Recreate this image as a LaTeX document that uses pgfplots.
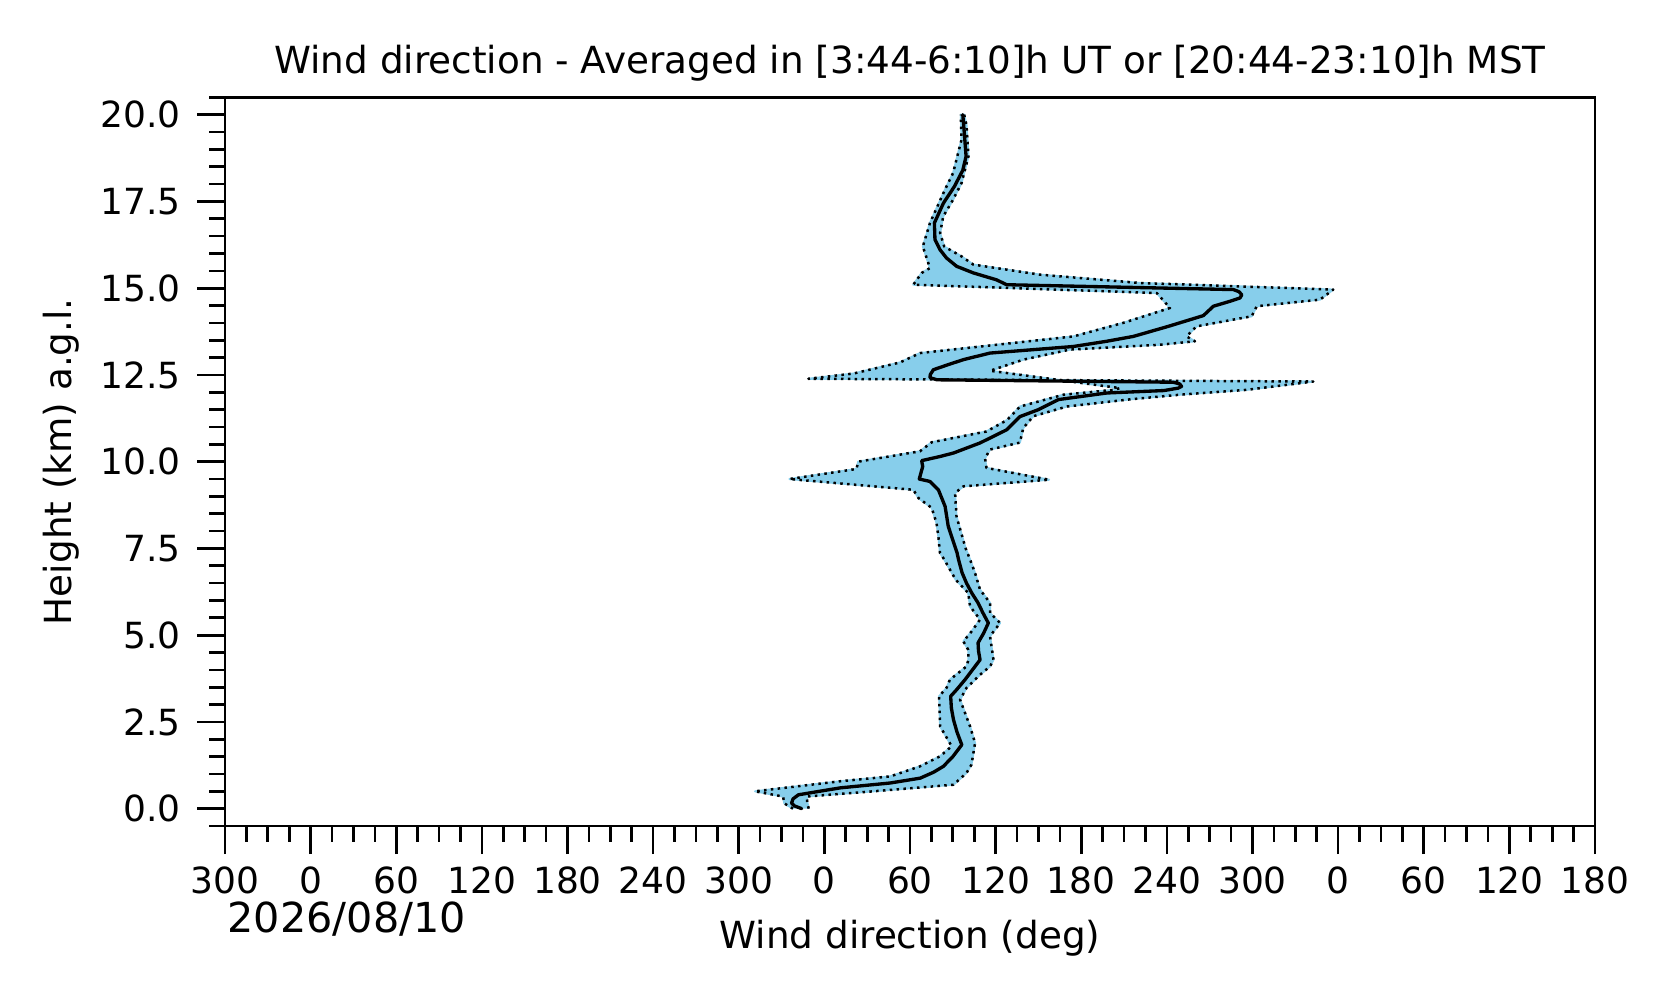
\documentclass[border=0pt]{standalone}
\usepackage{fontspec}
\setmainfont{DejaVu Sans}
\usepackage{pgfplots}
\usepackage{pgfplotstable}
\pgfplotsset{compat=1.18}
\definecolor{skyblue}{RGB}{135,206,235}

% first bound (x1)
\pgfplotstableread{
h u
0.00 -22
0.15 -28
0.35 -29
0.50 -48.6
0.79 11.2
0.93 46.2
1.22 67.0
1.51 81.1
1.80 89.2
2.37 81.1
3.24 80.4
3.48 85.6
3.72 88.0
4.10 99.6
4.30 101.0
4.58 100.8
4.82 97.4
5.10 103.0
5.45 109.1
5.83 102.1
6.22 100.8
6.60 92.0
7.18 84.0
7.37 81.0
7.80 80.0
8.23 78.6
8.67 75.2
8.95 66.0
9.19 62.3
9.50 -24.5
9.79 22.5
10.00 23.7
10.30 67.0
10.56 75.2
10.87 113.6
11.20 128.0
11.59 137.1
11.93 167.5
12.07 202.5
12.12 207.2
12.62 116.1
12.94 139.4
13.23 172.0
13.37 235.2
13.47 259.7
13.61 253.8
13.90 260.8
14.19 299.4
14.48 303.0
14.67 347.3
14.96 356.6
15.15 221.2
15.39 151.1
15.68 104.4
15.92 96.0
16.20 84.0
16.59 81.1
17.07 83.3
17.55 90.2
18.03 96.1
18.80 101.0
19.70 99.6
20.00 98.0
}\lodata

% second bound (x2)
\pgfplotstableread{
h u
0.00 -11
0.20 -12
0.35 -12.4
0.50 34.3
0.61 67.0
0.69 90.5
1.03 99.6
1.27 103.1
1.89 105.6
2.37 102.1
3.14 95.1
3.48 99.6
3.86 109.1
4.10 116.1
4.29 118.5
4.97 116.1
5.35 123.1
5.64 116.1
5.93 116.1
6.31 109.1
6.79 105.6
7.18 102.1
7.50 99.0
8.42 92.6
9.10 91.6
9.29 97.5
9.48 157.5
9.82 113.6
10.10 112.6
10.35 116.1
10.55 137.0
10.97 139.4
11.31 146.4
11.59 170.0
11.80 215.0
11.93 249.2
12.07 295.9
12.31 342.6
12.39 -11.2
12.54 20.4
12.86 53.0
13.13 67.0
13.61 174.5
14.00 209.4
14.43 242.2
14.86 232.9
15.10 62.3
15.44 68.2
15.58 74.0
16.20 69.0
16.88 74.0
17.84 84.5
18.32 90.2
19.28 96.1
20.00 95.6
}\hidata

% averaged wind direction
\pgfplotstableread{
h u
0.00 -15.9
0.08 -21
0.16 -23
0.28 -22
0.40 -18.2
0.50 -3.5
0.60 11.2
0.74 46.2
0.88 67.2
1.05 76.5
1.22 83.4
1.50 90.0
1.84 96.3
2.20 93.0
2.56 90.5
2.90 89.0
3.24 88.5
3.43 92.7
3.72 98.6
3.91 102.1
4.29 109.1
4.55 108.0
4.78 107.7
5.05 111.5
5.35 114.9
5.65 111.0
5.93 107.7
6.20 103.5
6.50 99.6
6.80 96.5
7.18 94.0
7.37 93.0
8.14 86.8
8.71 84.6
9.19 79.9
9.43 74.0
9.50 66.5
9.86 68.9
10.03 68.2
10.15 81.1
10.25 90.5
10.54 109.1
10.92 127.8
11.30 137.1
11.50 150.0
11.79 164.0
11.98 198.0
12.05 238.0
12.12 248.0
12.17 250.3
12.24 249.0
12.29 244.5
12.36 78.9
12.42 74.0
12.51 74.2
12.65 76.4
12.80 87.0
12.94 97.4
13.13 116.0
13.32 174.5
13.47 197.8
13.61 216.5
13.90 241.0
14.21 265.6
14.48 272.6
14.62 284.0
14.72 291.3
14.81 292.5
14.90 290.5
14.96 286.6
15.10 127.7
15.24 120.7
15.44 104.4
15.63 92.7
15.87 85.6
16.11 81.0
16.40 77.5
16.88 77.1
17.45 83.4
17.93 91.1
18.40 97.0
18.80 99.3
19.50 98.0
20.00 97.0
}\meandata

% band outline: x1 upwards, then x2 downwards
\pgfplotstablesort[sort key=h, sort cmp={float >}]{\hirev}{\hidata}
\let\banddata\relax
\pgfplotstablevertcat{\banddata}{\lodata}
\pgfplotstablevertcat{\banddata}{\hirev}

\begin{document}
\begin{tikzpicture}
\begin{axis}[
  at={(0,0)}, anchor=south west,
  width=411pt, height=218.6pt, scale only axis,
  xmin=-420, xmax=540, ymin=-0.5, ymax=20.5,
  xtick={-420,-360,...,540},
  xticklabels={300,0,60,120,180,240,300,0,60,120,180,240,300,0,60,120,180},
  minor xtick={-420,-405,...,540},
  ytick={0,2.5,...,20},
  yticklabels={0.0,2.5,5.0,7.5,10.0,12.5,15.0,17.5,20.0},
  minor ytick={-0.5,0,...,20.5},
  tick pos=left, tick align=outside,
  major tick length=8.4pt, minor tick length=4.7pt,
  every tick/.style={black, line width=0.8pt},
  axis line style={line width=0.8pt},
  tick label style={font=\fontsize{10.8}{12}\selectfont},
  xticklabel style={yshift=-0.4pt},
  yticklabel style={xshift=-1.3pt},
  /pgf/number format/assume math mode=true,
]
\addplot[fill=skyblue, draw=skyblue, line width=0.6pt, line join=round] table[x=u,y=h] {\banddata};
\addplot[black, line width=0.75pt, line join=round, dash pattern=on 0.75pt off 1.3pt] table[x=u,y=h] {\lodata};
\addplot[black, line width=0.75pt, line join=round, dash pattern=on 0.75pt off 1.3pt] table[x=u,y=h] {\hidata};
\addplot[black, line width=1.0pt, line join=round, line cap=round] table[x=u,y=h] {\meandata};
\end{axis}
\node[anchor=base, font=\fontsize{11.2}{13}\selectfont] at (205.5pt,225.9pt) {Wind direction - Averaged in [3:44-6:10]h UT or [20:44-23:10]h MST};
\node[anchor=base, font=\fontsize{11.2}{13}\selectfont] at (205.5pt,-36.6pt) {Wind direction (deg)};
\node[anchor=base west, inner sep=0pt, font=\fontsize{12.4}{14}\selectfont] at (0.6pt,-31.8pt) {2026/08/10};
\node[rotate=90, anchor=center, font=\fontsize{11.2}{13}\selectfont] at (-49.2pt,109.3pt) {Height (km) a.g.l.};
\path (-67.5pt,-53.1pt) rectangle (435.3pt,247.8pt);
\end{tikzpicture}
\end{document}
